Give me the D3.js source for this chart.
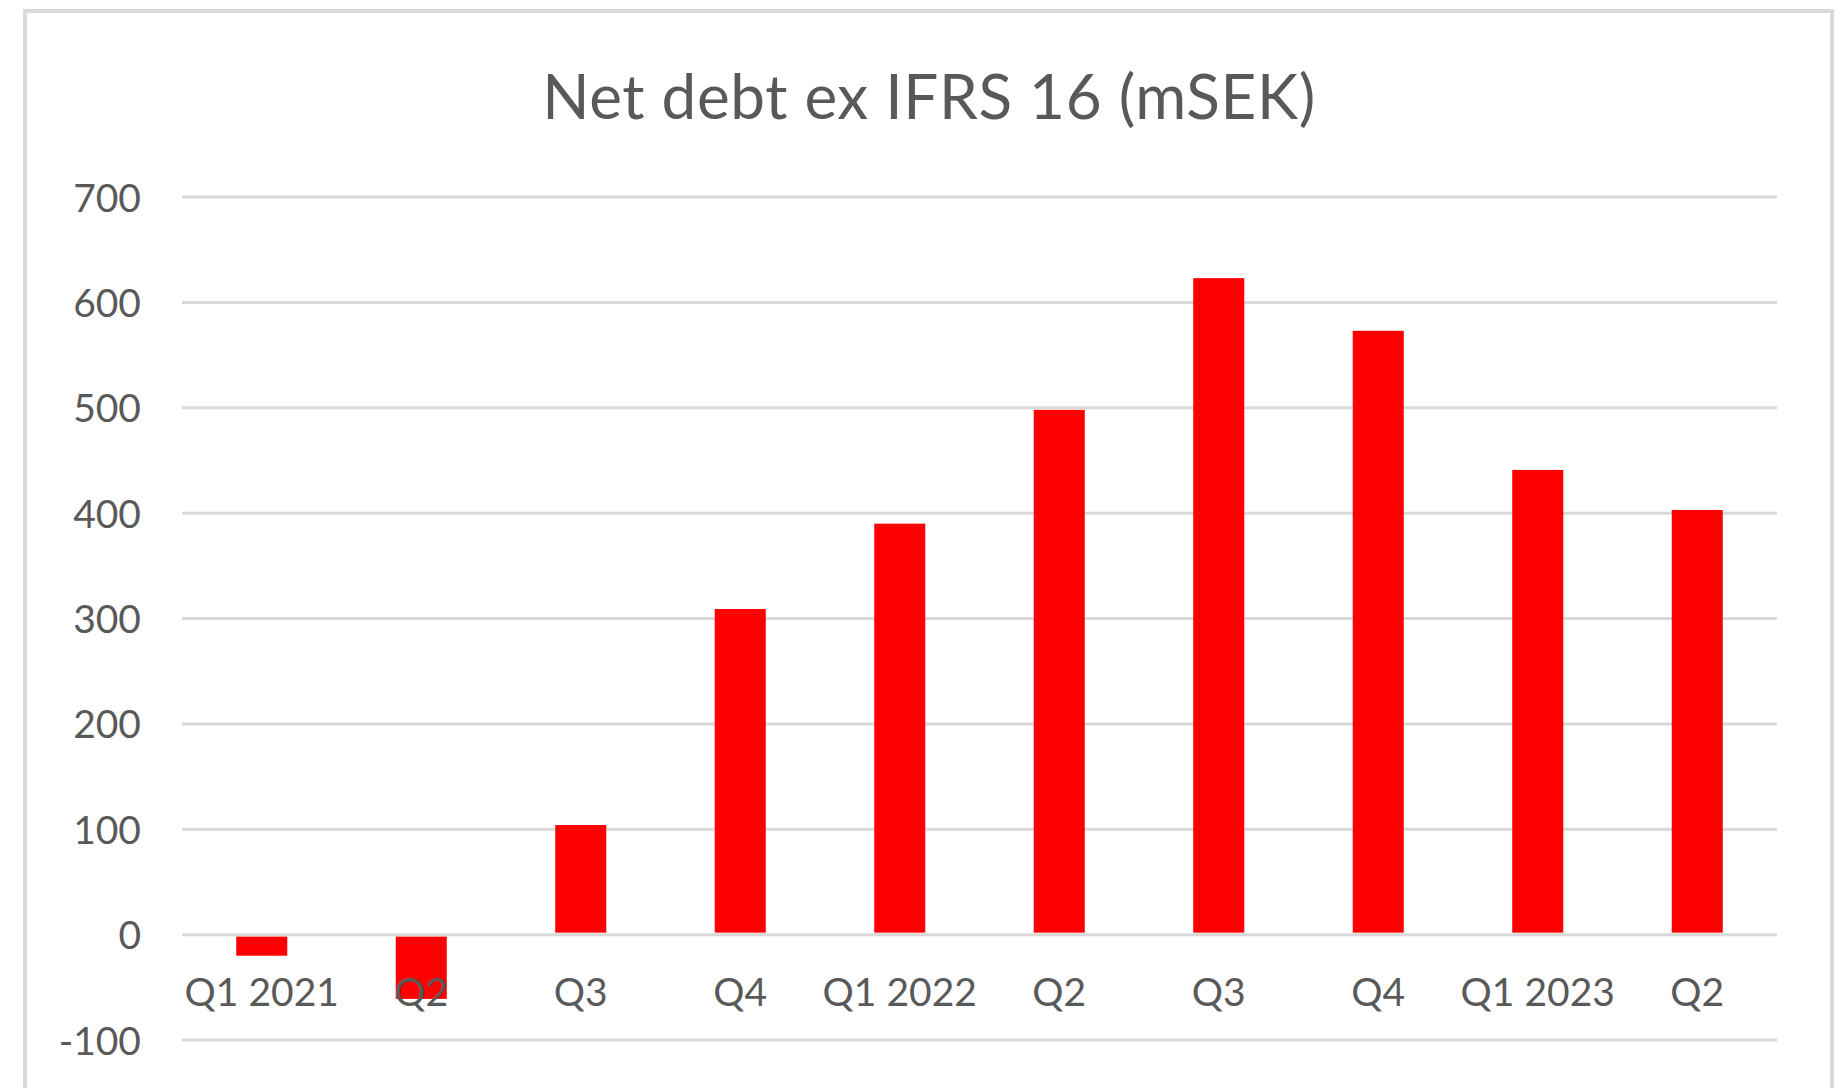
<!DOCTYPE html>
<html>
<head>
<meta charset="utf-8">
<script src="https://cdn.jsdelivr.net/npm/d3@7"></script>
<style>
  body { margin: 0; background: #fff; }
  text { font-family: Lato, "Open Sans", sans-serif; fill: #595959; }
</style>
</head>
<body>
<div id="chart"></div>
<script>
// chart data
var title = "Net debt ex IFRS 16 (mSEK)";
var quarters = ["Q1 2021", "Q2", "Q3", "Q4", "Q1 2022", "Q2", "Q3", "Q4", "Q1 2023", "Q2"];
var netDebt = [-20, -61, 104, 309, 390, 498, 623, 573, 441, 403];
var yTicks = [-100, 0, 100, 200, 300, 400, 500, 600, 700];

var W = 1845, H = 1088;
var plot = {left: 182, right: 1777, top: 197, bottom: 1040};

var svg = d3.select("#chart")
  .append("svg")
    .attr("width", W)
    .attr("height", H);

// chart frame (bottom edge is cut off in the picture)
svg.append("rect")
  .attr("x", 25).attr("y", 11)
  .attr("width", 1807).attr("height", H + 20)
  .attr("fill", "#fff")
  .attr("stroke", "#d9d9d9")
  .attr("stroke-width", 4);

// use index as key, since the quarter names repeat
var x = d3.scaleBand()
  .domain(d3.range(quarters.length))
  .range([plot.left, plot.right])
  .paddingInner(0.68)
  .paddingOuter(0.34);

var y = d3.scaleLinear()
  .domain([-100, 700])
  .range([plot.bottom, plot.top]);

// gridlines
svg.append("g")
  .selectAll("line")
  .data(yTicks)
  .enter().append("line")
    .attr("x1", plot.left)
    .attr("x2", plot.right)
    .attr("y1", function(d) { return y(d); })
    .attr("y2", function(d) { return y(d); })
    .attr("stroke", "#d9d9d9")
    .attr("stroke-width", 3);

// bars
svg.append("g")
  .selectAll("rect")
  .data(netDebt)
  .enter().append("rect")
    .attr("x", function(d, i) { return x(i); })
    .attr("width", x.bandwidth())
    .attr("y", function(d) { return d >= 0 ? y(d) : y(0) + 2; })
    .attr("height", function(d) { return d >= 0 ? y(0) - 2 - y(d) : y(d) - y(0) - 2; })
    .attr("fill", "#ff0000");

// y axis labels (plain hyphen for negatives, like Excel)
var yAxis = svg.append("g")
  .attr("transform", "translate(" + (plot.left - 41) + ",0)")
  .call(d3.axisLeft(y).tickValues(yTicks).tickFormat(function(d) { return String(d); })
    .tickSize(0).tickPadding(0));
yAxis.select(".domain").remove();
yAxis.selectAll("text")
  .attr("font-size", 39)
  .attr("font-family", null)
  .attr("fill", "#595959")
  .attr("dy", "0.36em");

// x axis labels sit just below the zero line
var xAxis = svg.append("g")
  .attr("transform", "translate(0," + y(0) + ")")
  .call(d3.axisBottom(x).tickFormat(function(i) { return quarters[i]; }).tickSize(0).tickPadding(0));
xAxis.select(".domain").remove();
xAxis.selectAll("text")
  .attr("font-size", 39)
  .attr("font-family", null)
  .attr("fill", "#595959")
  .attr("dy", null)
  .attr("y", 71);

// title
svg.append("text")
  .attr("x", 929)
  .attr("y", 119)
  .attr("text-anchor", "middle")
  .attr("font-size", 62)
  .attr("letter-spacing", 0.6)
  .text(title);
</script>
</body>
</html>
